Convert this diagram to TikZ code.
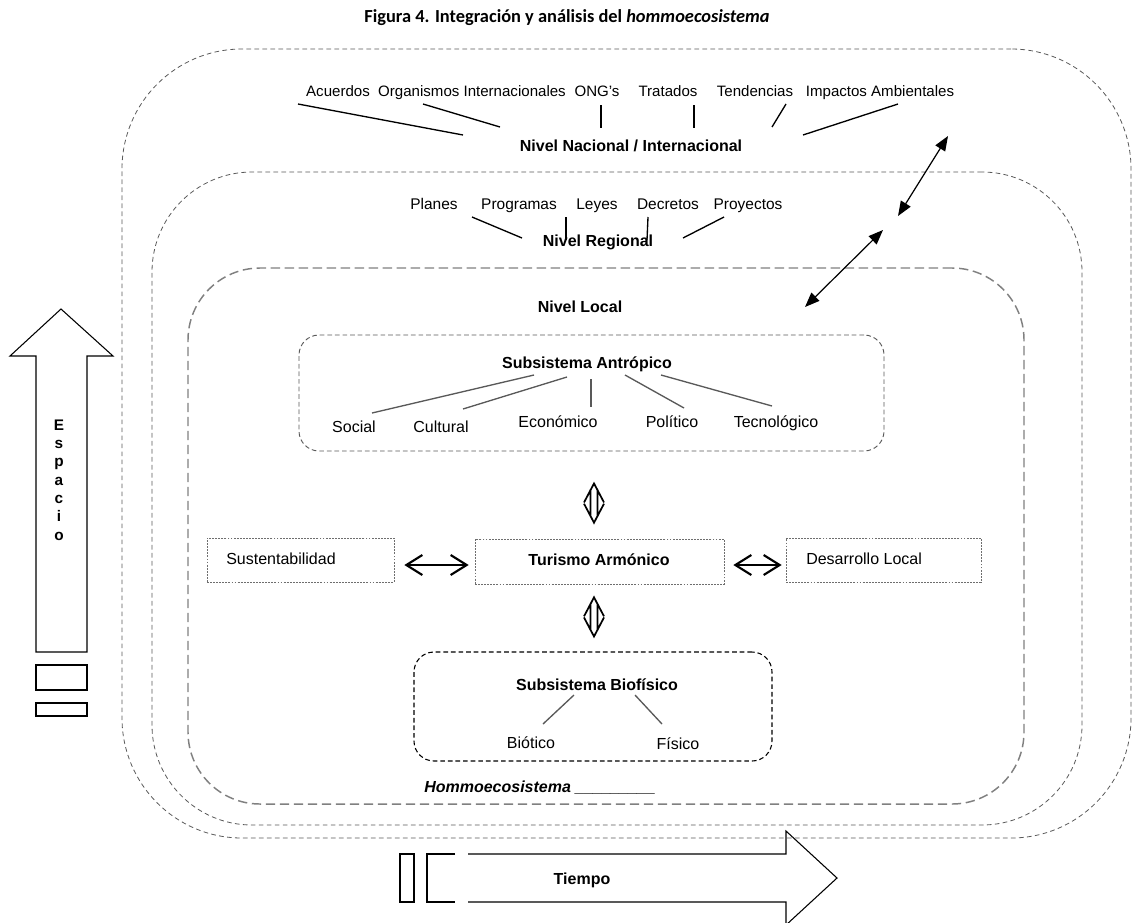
\documentclass[tikz,border=0pt]{standalone}
\usepackage{fontspec}
\setmainfont{Liberation Sans}
\newfontfamily\titlefont{Carlito}
\usetikzlibrary{arrows.meta,fit,positioning,calc}
\definecolor{HLine}{HTML}{595959}
\definecolor{HLocal}{HTML}{808080}
\definecolor{HDot}{HTML}{6E6E6E}

\begin{document}
\begin{tikzpicture}[x=0.75pt,y=-0.75pt,
  level/.style={draw=HLine,line width=0.6pt,dash pattern=on 3.5pt off 2.5pt,inner sep=0pt},
  localbox/.style={draw=HLocal,line width=1.1pt,dash pattern=on 7pt off 3.5pt,inner sep=0pt,rounded corners=54pt},
  subbox/.style={draw=HLine,line width=0.7pt,dash pattern=on 3.5pt off 2.2pt,inner sep=0pt,rounded corners=15pt},
  biobox/.style={subbox,draw=black,line width=0.8pt},
  dotbox/.style={draw=HDot,line width=0.5pt,dash pattern=on 1.4pt off 0.9pt,inner sep=0pt},
  item/.style={inner sep=0pt,anchor=base,font=\fontsize{11.3}{13}\selectfont},
  ritem/.style={inner sep=0pt,anchor=base,font=\fontsize{11.6}{13}\selectfont},
  sitem/.style={inner sep=0pt,anchor=base,font=\fontsize{12}{14}\selectfont},
  head/.style={inner sep=0pt,anchor=base,font=\bfseries\fontsize{12}{14}\selectfont},
  link/.style={line width=1pt},
  branch/.style={draw=HLine,line width=1pt},
  lvlarr/.style={arrows={Triangle[length=11pt,width=8.5pt]-Triangle[length=11pt,width=8.5pt]},line width=0.9pt},
  harr/.style={arrows={Straight Barb[length=12pt,width=15pt]-Straight Barb[length=12pt,width=15pt]},line width=1.6pt},
  varr/.style={line width=1.3pt,line join=miter,to path={
    (\tikztostart) ++(-10,19) -- (\tikztostart) -- ++(10,19)
    (\tikztotarget) ++(-10,-19) -- (\tikztotarget) -- ++(10,-19)
    ($(\tikztostart)+(-3.5,6)$) -- ($(\tikztotarget)+(-3.5,-6)$)
    ($(\tikztostart)+(3.5,6)$) -- ($(\tikztotarget)+(3.5,-6)$)}},
  block/.style={line width=0.8pt}
]
\useasboundingbox (0,0) rectangle (1134,922);
\node[inner sep=0pt,anchor=base,font=\titlefont\bfseries\fontsize{13.8}{16}\selectfont] (title) at (567,22)
  {Figura 4. Integración y análisis del \textit{hommoecosistema}};

\node[level,rounded corners=90pt,fit={(122,49) (1131,838)}] (nacbox) {};
\node[level,rounded corners=75pt,fit={(152,172) (1082,825)}] (regbox) {};
\node[localbox,fit={(188,268) (1024,804)}] (locbox) {};

\node[item] (acuerdos) at (338,96) {Acuerdos};
\node[item] (organismos) at (472,96) {Organismos Internacionales};
\node[item] (ong) at (597,96) {ONG's};
\node[item] (tratados) at (668,96) {Tratados};
\node[item] (tendencias) at (755,96) {Tendencias};
\node[item] (impactos) at (880,96) {Impactos Ambientales};
\node[head] (nacional) at (631,151) {Nivel Nacional / Internacional};
\draw[link] ([shift={(-40,8)}]acuerdos.base) -- ([shift={(-168,-16)}]nacional.base);
\draw[link] ([shift={(-49,8)}]organismos.base) -- ([shift={(-131,-24)}]nacional.base);
\draw[link] ([shift={(4,9)}]ong.base) -- ([shift={(-30,-23)}]nacional.base);
\draw[link] ([shift={(26,9)}]tratados.base) -- ([shift={(63,-23)}]nacional.base);
\draw[link] ([shift={(31,8)}]tendencias.base) -- ([shift={(141,-24)}]nacional.base);
\draw[link] ([shift={(18,8)}]impactos.base) -- ([shift={(172,-16)}]nacional.base);

\node[ritem] (planes) at (434,209) {Planes};
\node[ritem] (programas) at (519,209) {Programas};
\node[ritem] (leyes) at (597,209) {Leyes};
\node[ritem] (decretos) at (668,209) {Decretos};
\node[ritem] (proyectos) at (748,209) {Proyectos};
\node[head] (regional) at (598,246) {Nivel Regional};
\draw[link] ([shift={(38,8)}]planes.base) -- ([shift={(-76,-8)}]regional.base);
\draw[link] ([shift={(47,8)}]programas.base) -- ([shift={(-32,-6)}]regional.base);
\draw[link] ([shift={(-20,8)}]decretos.base) -- ([shift={(49,-6)}]regional.base);
\draw[link] ([shift={(-24,8)}]proyectos.base) -- ([shift={(85,-8)}]regional.base);

\node[head] (local) at (580,312) {Nivel Local};
\coordinate (nacA) at (948,136);
\coordinate (regA) at (898,216);
\coordinate (regB) at (883,230);
\coordinate (locB) at (805,307);
\draw[lvlarr] (nacA) -- (regA);
\draw[lvlarr] (regB) -- (locB);

\node[subbox,fit={(299,335) (884,451)}] (antbox) {};
\node[head] (antropico) at (587,368) {Subsistema Antrópico};
\node[sitem] (social) at (354,432) {Social};
\node[sitem] (cultural) at (441,432) {Cultural};
\node[sitem] (economico) at (558,427) {Económico};
\node[sitem] (politico) at (672,427) {Político};
\node[sitem] (tecnologico) at (776,427) {Tecnológico};
\draw[branch] ([shift={(-53,7)}]antropico.base) -- ([shift={(18,-19)}]social.base);
\draw[branch] ([shift={(-20,9)}]antropico.base) -- ([shift={(22,-23)}]cultural.base);
\draw[branch] ([shift={(4,11)}]antropico.base) -- ([shift={(33,-20)}]economico.base);
\draw[branch] ([shift={(38,7)}]antropico.base) -- ([shift={(12,-19)}]politico.base);
\draw[branch] ([shift={(74,7)}]antropico.base) -- ([shift={(-4,-21)}]tecnologico.base);

\node[dotbox,fit={(207,538) (394,582)}] (sustbox) {};
\node[sitem,anchor=base west] (sust) at (226,564) {Sustentabilidad};
\node[dotbox,fit={(475,539) (724,584)}] (turbox) {};
\node[head] (turismo) at (599,565) {Turismo Armónico};
\node[dotbox,fit={(786,538) (981,582)}] (desbox) {};
\node[sitem,anchor=base west] (desarrollo) at (806,564) {Desarrollo Local};
\draw[harr] ([shift={(10,5)}]sustbox.east) -- ([shift={(-6,3.5)}]turbox.west);
\draw[harr] ([shift={(9,3.5)}]turbox.east) -- ([shift={(-4,5)}]desbox.west);

\node[biobox,fit={(414,652) (772,761)}] (biobox) {};
\node[head] (biofisico) at (597,690) {Subsistema Biofísico};
\node[sitem] (biotico) at (531,748) {Biótico};
\node[sitem] (fisico) at (678,749) {Físico};
\draw[branch] ([shift={(-23,5)}]biofisico.base) -- ([shift={(12,-24)}]biotico.base);
\draw[branch] ([shift={(38,5)}]biofisico.base) -- ([shift={(-16,-25)}]fisico.base);

\coordinate (antdown) at ([shift={(2.5,32)}]antbox.south);
\coordinate (turup) at ([shift={(-5.5,-16)}]turbox.north);
\coordinate (turdown) at ([shift={(-5.5,13)}]turbox.south);
\coordinate (bioup) at ([shift={(1,-15)}]biobox.north);
\draw[varr] (antdown) to (turup);
\draw[varr] (turdown) to (bioup);

\node[inner sep=0pt,anchor=base west,font=\bfseries\itshape\fontsize{12}{14}\selectfont] (hommo) at (424,792)
  {Hommoecosistema \_\_\_\_\_\_\_\_\_};

\draw[block] (36,652) -- (36,356) -- (10,356) -- (61,309) -- (113,356) -- (87,356) -- (87,652) -- cycle;
\draw[block] (36,665) rectangle (87,690);
\draw[block] (36,703) rectangle (87,716);
\node[inner sep=0pt,align=center,font=\bfseries\fontsize{11.5}{13.7}\selectfont] (espacio) at (59,480)
  {E\\s\\p\\a\\c\\i\\o};

\draw[block] (400,854) rectangle (414,902);
\draw[block] (455,854) -- (427,854) -- (427,902) -- (455,902);
\draw[block] (468,854) -- (786,854) -- (786,831) -- (837,878) -- (786,925) -- (786,902) -- (468,902);
\node[head] (tiempo) at (582,884) {Tiempo};
\end{tikzpicture}
\end{document}
